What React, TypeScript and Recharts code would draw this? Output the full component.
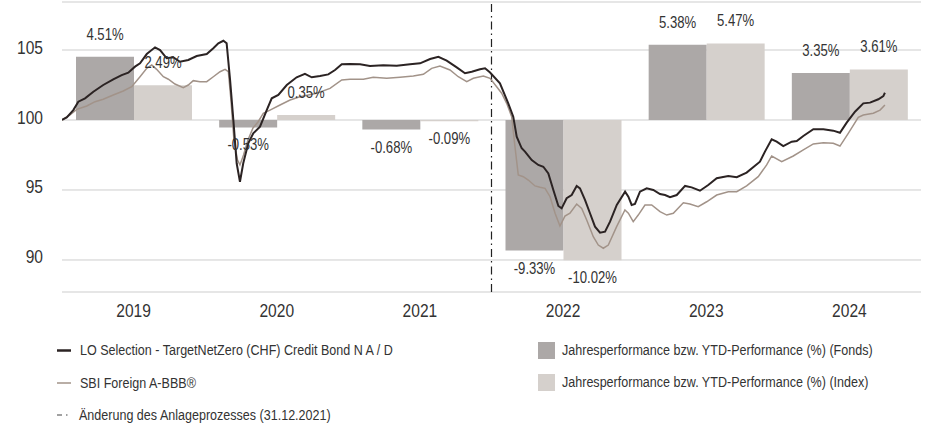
import React from 'react';
import {
  ComposedChart,
  Bar,
  Line,
  XAxis,
  YAxis,
  CartesianGrid,
  ReferenceLine,
  LabelList,
} from 'recharts';

const years = ['2019', '2020', '2021', '2022', '2023', '2024'];
const fondsPerf = [4.51, -0.53, -0.68, -9.33, 5.38, 3.35];
const indexPerf = [2.49, 0.35, -0.09, -10.02, 5.47, 3.61];

const yTicks = [90, 95, 100, 105];
const yearBounds = [2019, 2020, 2021, 2022, 2023, 2024, 2025];
const processChange = 2022; // 31.12.2021

const fundDates = [
  2019.0, 2019.033, 2019.079, 2019.114, 2019.161, 2019.219, 2019.288, 2019.358, 2019.417, 2019.463,
  2019.51, 2019.545, 2019.592, 2019.65, 2019.685, 2019.731, 2019.777, 2019.824, 2019.882, 2019.941,
  2020.011, 2020.057, 2020.092, 2020.127, 2020.15, 2020.174, 2020.197, 2020.22, 2020.243, 2020.266,
  2020.301, 2020.336, 2020.383, 2020.43, 2020.465, 2020.511, 2020.57, 2020.639, 2020.697, 2020.744,
  2020.802, 2020.86, 2020.907, 2020.954, 2021.012, 2021.082, 2021.151, 2021.244, 2021.338, 2021.431,
  2021.501, 2021.571, 2021.629, 2021.687, 2021.757, 2021.815, 2021.862, 2021.92, 2021.955, 2021.99,
  2022.059, 2022.117, 2022.152, 2022.176, 2022.211, 2022.234, 2022.281, 2022.327, 2022.362, 2022.397,
  2022.432, 2022.467, 2022.49, 2022.525, 2022.56, 2022.595, 2022.618, 2022.653, 2022.688, 2022.723,
  2022.758, 2022.793, 2022.828, 2022.875, 2022.933, 2022.956, 2022.979, 2023.002, 2023.037, 2023.084,
  2023.13, 2023.177, 2023.212, 2023.247, 2023.294, 2023.352, 2023.398, 2023.456, 2023.514, 2023.573,
  2023.654, 2023.713, 2023.782, 2023.875, 2023.91, 2023.957, 2023.992, 2024.038, 2024.097, 2024.132,
  2024.178, 2024.248, 2024.318, 2024.387, 2024.434, 2024.481, 2024.539, 2024.597, 2024.644, 2024.702,
  2024.737, 2024.748,
];
const fundValues = [
  100.0, 100.19, 100.71, 101.31, 101.55, 102.02, 102.5, 102.91, 103.21, 103.38,
  103.81, 104.05, 104.71, 105.19, 105.0, 104.41, 104.48, 104.16, 104.29, 104.57,
  104.71, 105.12, 105.48, 105.66, 105.48, 102.86, 100.0, 96.91, 95.59, 96.91,
  98.34, 99.05, 99.52, 100.71, 101.55, 101.79, 102.5, 103.05, 103.29, 103.05,
  103.14, 103.26, 103.57, 103.98, 104.0, 103.98, 103.86, 103.91, 103.88, 103.98,
  104.05, 104.36, 104.52, 104.24, 103.76, 103.34, 103.45, 103.62, 103.69, 103.39,
  102.62, 101.19, 100.24, 98.81, 97.98, 97.74, 97.14, 96.79, 96.66, 96.19,
  95.0, 93.86, 93.69, 94.41, 94.64, 95.29, 95.12, 94.29, 93.34, 92.38,
  91.95, 92.02, 92.74, 93.93, 94.88, 94.52, 93.93, 94.0, 94.88, 95.12,
  95.0, 94.71, 94.64, 94.48, 94.64, 95.29, 95.19, 94.95, 95.36, 95.84,
  96.0, 95.91, 96.24, 97.02, 97.74, 98.62, 98.45, 98.14, 98.45, 98.5,
  98.86, 99.34, 99.34, 99.24, 99.09, 99.81, 100.59, 101.19, 101.24, 101.48,
  101.71, 101.95,
];

const indexDates = [
  2019.0, 2019.056, 2019.103, 2019.173, 2019.231, 2019.288, 2019.358, 2019.428, 2019.487, 2019.545,
  2019.592, 2019.627, 2019.661, 2019.708, 2019.743, 2019.789, 2019.847, 2019.882, 2019.917, 2019.964,
  2020.011, 2020.057, 2020.104, 2020.139, 2020.162, 2020.18, 2020.201, 2020.226, 2020.243, 2020.268,
  2020.299, 2020.334, 2020.369, 2020.406, 2020.453, 2020.523, 2020.593, 2020.662, 2020.779, 2020.872,
  2020.954, 2021.012, 2021.105, 2021.174, 2021.268, 2021.361, 2021.454, 2021.524, 2021.582, 2021.64,
  2021.71, 2021.768, 2021.827, 2021.873, 2021.943, 2021.99, 2022.036, 2022.071, 2022.106, 2022.141,
  2022.164, 2022.187, 2022.222, 2022.257, 2022.304, 2022.339, 2022.374, 2022.409, 2022.444, 2022.478,
  2022.513, 2022.548, 2022.595, 2022.63, 2022.665, 2022.711, 2022.746, 2022.781, 2022.816, 2022.874,
  2022.932, 2022.956, 2022.99, 2023.025, 2023.072, 2023.119, 2023.177, 2023.224, 2023.27, 2023.34,
  2023.386, 2023.444, 2023.503, 2023.573, 2023.654, 2023.713, 2023.782, 2023.863, 2023.922, 2023.957,
  2024.027, 2024.108, 2024.178, 2024.248, 2024.318, 2024.387, 2024.434, 2024.492, 2024.562, 2024.597,
  2024.667, 2024.714, 2024.748,
];
const indexValues = [
  100.0, 100.36, 100.76, 101.0, 101.31, 101.48, 101.79, 102.07, 102.38, 103.09,
  103.69, 103.93, 103.62, 103.09, 102.91, 102.57, 102.31, 102.5, 102.81, 102.74,
  102.74, 103.09, 103.45, 103.62, 103.45, 101.43, 98.57, 97.14, 96.79, 97.5,
  98.57, 99.43, 99.86, 100.48, 100.71, 101.07, 101.43, 101.66, 101.91, 102.26,
  102.86, 102.91, 102.91, 103.05, 102.98, 103.05, 103.14, 103.26, 103.69, 103.86,
  103.57, 103.09, 102.74, 102.98, 103.14, 102.98, 102.38, 101.91, 101.19, 100.24,
  98.09, 96.07, 95.95, 95.71, 95.29, 95.19, 95.12, 94.52, 93.34, 92.43,
  93.14, 93.34, 94.0, 93.69, 92.86, 91.66, 91.07, 90.84, 91.07, 92.38,
  93.57, 93.34, 92.74, 93.21, 93.93, 93.93, 93.45, 93.21, 93.34, 94.09,
  94.0, 93.81, 94.16, 94.64, 94.88, 94.88, 95.29, 95.95, 96.79, 97.43,
  97.02, 97.43, 97.86, 98.29, 98.38, 98.34, 98.14, 99.05, 100.19, 100.36,
  100.48, 100.71, 101.07,
];

// Arial metrics squeezed horizontally to stand in for a condensed Helvetica
const FONT = "'Liberation Sans', Arial, sans-serif";
const SQUEEZE = 0.82;
const TEXT = '#333';
const FUND_LINE = '#2b2323';
const INDEX_LINE = '#a29389';
const FONDS_BAR = '#aca8a7';
const INDEX_BAR = '#d5d0cc';
const AXIS = '#55574a';

const barData = years.map((year, i) => ({
  year,
  fondsRange: [100, 100 + fondsPerf[i]],
  indexRange: [100, 100 + indexPerf[i]],
  fondsPct: fondsPerf[i],
  indexPct: indexPerf[i],
}));
const fundData = fundDates.map((t, i) => ({ t, v: fundValues[i] }));
const indexData = indexDates.map((t, i) => ({ t, v: indexValues[i] }));

const fmtPct = (v: number) => v.toFixed(2) + '%';

const NarrowText = ({ x, y, size, anchor = 'start', children }: any) => (
  <g transform={`translate(${x},${y}) scale(${SQUEEZE},1)`}>
    <text x={0} y={0} textAnchor={anchor} fill={TEXT} fontSize={size} fontFamily={FONT}>
      {children}
    </text>
  </g>
);

const BarLabel = (props: any) => {
  const vb = props.viewBox || props;
  const x = vb.x ?? props.x;
  const y = vb.y ?? props.y;
  const w = vb.width ?? props.width;
  const h = vb.height ?? props.height;
  const v = Number(props.value);
  const top = Math.min(y, y + h);
  const bottom = Math.max(y, y + h);
  const ty = v >= 0 ? top - 17 : bottom + 23;
  return (
    <NarrowText x={x + w / 2} y={ty} size={16} anchor="middle">
      {fmtPct(v)}
    </NarrowText>
  );
};

const YTick = (props: any) => (
  <NarrowText x={props.x} y={props.y + 3.5} size={19} anchor="end">
    {props.payload.value}
  </NarrowText>
);

const YearTick = (props: any) => (
  <NarrowText x={props.x} y={props.y + 25} size={19} anchor="middle">
    {props.payload.value}
  </NarrowText>
);

const Legend = () => (
  <svg width={928} height={99} style={{ position: 'absolute', left: 0, top: 330 }}>
    <line x1={57} x2={71} y1={20.5} y2={20.5} stroke={FUND_LINE} strokeWidth={2.5} />
    <NarrowText x={80} y={25} size={15.3}>LO Selection - TargetNetZero (CHF) Credit Bond N A / D</NarrowText>
    <line x1={57} x2={71} y1={53} y2={53} stroke={INDEX_LINE} strokeWidth={1.5} />
    <NarrowText x={80} y={58} size={15.3}>SBI Foreign A-BBB®</NarrowText>
    <line x1={57} x2={69} y1={85} y2={85} stroke="#444" strokeWidth={1.2} strokeDasharray="5 4 1.5 4" />
    <NarrowText x={79} y={90} size={15.3}>Änderung des Anlageprozesses (31.12.2021)</NarrowText>
    <rect x={538} y={12} width={17} height={17} fill={FONDS_BAR} />
    <NarrowText x={562} y={25} size={15.3}>Jahresperformance bzw. YTD-Performance (%) (Fonds)</NarrowText>
    <rect x={538} y={44} width={17} height={17} fill={INDEX_BAR} />
    <NarrowText x={562} y={57} size={15.3}>Jahresperformance bzw. YTD-Performance (%) (Index)</NarrowText>
  </svg>
);

export default function App() {
  return (
    <div style={{ position: 'absolute', left: 0, top: 0, width: 928, height: 429, background: '#fff' }}>
      <ComposedChart
        width={928}
        height={330}
        data={barData}
        margin={{ top: 2, right: 7, bottom: 8, left: 12 }}
        barGap={0}
      >
        <CartesianGrid xAxisId="time" vertical={false} stroke="#cdcdcd" strokeWidth={1} />
        <XAxis
          xAxisId="time"
          type="number"
          dataKey="t"
          domain={[2019, 2025]}
          ticks={yearBounds}
          allowDataOverflow
          height={0}
          tick={false}
          tickSize={8}
          tickLine={{ stroke: AXIS, strokeWidth: 1.2 }}
          axisLine={{ stroke: AXIS, strokeWidth: 1.2 }}
        />
        <XAxis
          xAxisId="year"
          dataKey="year"
          type="category"
          height={30}
          axisLine={false}
          tickLine={false}
          tickSize={0}
          tickMargin={0}
          interval={0}
          tick={<YearTick />}
        />
        <YAxis
          type="number"
          domain={[87.714, 108.429]}
          ticks={yTicks}
          allowDataOverflow
          width={50}
          axisLine={false}
          tickLine={false}
          tickSize={0}
          tickMargin={19}
          tick={<YTick />}
        />
        <Bar xAxisId="year" dataKey="fondsRange" fill={FONDS_BAR} barSize={58} isAnimationActive={false}>
          <LabelList dataKey="fondsPct" content={<BarLabel />} />
        </Bar>
        <Bar xAxisId="year" dataKey="indexRange" fill={INDEX_BAR} barSize={58} isAnimationActive={false}>
          <LabelList dataKey="indexPct" content={<BarLabel />} />
        </Bar>
        <ReferenceLine
          xAxisId="time"
          x={processChange}
          stroke="#222"
          strokeWidth={1.2}
          strokeDasharray="8 4 1.5 4"
        />
        <Line
          xAxisId="time"
          data={indexData}
          dataKey="v"
          type="linear"
          stroke={INDEX_LINE}
          strokeWidth={1.5}
          dot={false}
          isAnimationActive={false}
        />
        <Line
          xAxisId="time"
          data={fundData}
          dataKey="v"
          type="linear"
          stroke={FUND_LINE}
          strokeWidth={2}
          dot={false}
          isAnimationActive={false}
        />
      </ComposedChart>
      <Legend />
    </div>
  );
}
